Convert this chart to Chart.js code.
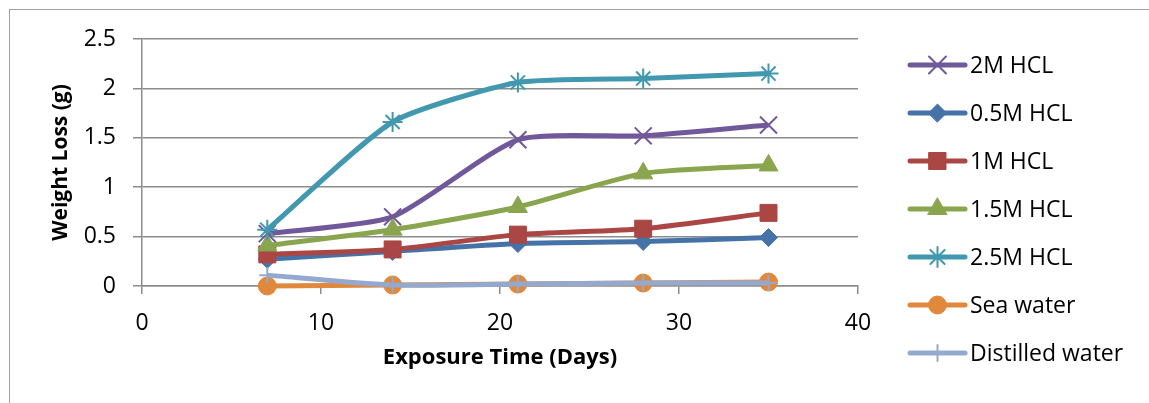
<!DOCTYPE html>
<html lang="en">
<head>
  <meta charset="UTF-8">
  <title>Weight Loss vs Exposure Time</title>
  <script src="https://cdn.jsdelivr.net/npm/chart.js"></script>
  <style>
    body {
      margin: 0;
      background: #ffffff;
      overflow: hidden;
    }
    .frame {
      position: absolute;
      left: 9px;
      top: 9px;
      width: 1300px;
      height: 600px;
      border-left: 1.5px solid #a0a0a0;
      border-top: 1.5px solid #a0a0a0;
    }
    #chart {
      position: absolute;
      left: 0;
      top: 0;
    }
  </style>
</head>
<body>
  <div class="frame"></div>
  <canvas id="chart" width="1149" height="403"></canvas>

  <script>
    // data
    const days = [7, 14, 21, 28, 35];
    const hcl2M = [0.53, 0.70, 1.48, 1.52, 1.63];
    const hcl05M = [0.27, 0.35, 0.43, 0.45, 0.49];
    const hcl1M = [0.32, 0.37, 0.52, 0.58, 0.74];
    const hcl15M = [0.41, 0.57, 0.80, 1.14, 1.22];
    const hcl25M = [0.57, 1.66, 2.06, 2.10, 2.15];
    const seaWater = [0.00, 0.01, 0.02, 0.03, 0.04];
    const distilledWater = [0.11, 0.01, 0.02, 0.03, 0.03];

    const xTicks = [0, 10, 20, 30, 40];
    const yTicks = [0, 0.5, 1, 1.5, 2, 2.5];

    const FONT = "'Open Sans', 'Noto Sans', sans-serif";

    const seriesList = [
      { label: '2M HCL', values: hcl2M, color: '#71589b', style: 'crossRot', radius: 12, fill: false },
      { label: '0.5M HCL', values: hcl05M, color: '#4572a7', style: 'rectRot', radius: 9, fill: true },
      { label: '1M HCL', values: hcl1M, color: '#aa4643', style: 'rect', radius: 12, fill: true },
      { label: '1.5M HCL', values: hcl15M, color: '#89a54e', style: 'triangle', radius: 11, fill: true },
      { label: '2.5M HCL', values: hcl25M, color: '#4198af', style: 'star', radius: 10, fill: false },
      { label: 'Sea water', values: seaWater, color: '#e0893c', style: 'circle', radius: 9, fill: true },
      { label: 'Distilled water', values: distilledWater, color: '#93a9cf', style: 'cross', radius: 8, fill: false }
    ];

    const datasets = seriesList.map((s, i) => ({
      label: s.label,
      data: days.map((d, j) => ({ x: d, y: s.values[j] })),
      borderColor: s.color,
      backgroundColor: s.color,
      borderWidth: 5,
      tension: 0.2,
      pointStyle: s.style,
      pointRadius: s.radius,
      pointHoverRadius: s.radius,
      pointBorderWidth: s.fill ? 1 : 2,
      pointBorderColor: s.color,
      pointBackgroundColor: s.color,
      showLine: true,
      clip: false,
      order: seriesList.length - 1 - i
    }));

    // legend drawn as line + marker like the original
    const lineLegend = {
      id: 'lineLegend',
      afterDraw(chart) {
        const ctx = chart.ctx;
        const x0 = 910, x1 = 965, textX = 970, firstY = 65, step = 48;
        seriesList.forEach((s, i) => {
          const y = firstY + i * step;
          ctx.save();
          ctx.strokeStyle = s.color;
          ctx.fillStyle = s.color;
          ctx.lineWidth = 5;
          ctx.lineCap = 'round';
          ctx.beginPath();
          ctx.moveTo(x0, y);
          ctx.lineTo(x1, y);
          ctx.stroke();
          ctx.lineWidth = s.fill ? 1 : 2;
          Chart.helpers.drawPoint(ctx, {
            pointStyle: s.style,
            radius: s.radius,
            rotation: 0,
            borderWidth: s.fill ? 1 : 2
          }, (x0 + x1) / 2, y);
          ctx.fillStyle = '#000000';
          ctx.font = '23px ' + FONT;
          ctx.textBaseline = 'middle';
          ctx.textAlign = 'left';
          ctx.fillText(s.label, textX, y + 1);
          ctx.restore();
        });
      }
    };

    new Chart(document.getElementById('chart'), {
      type: 'scatter',
      data: { datasets },
      options: {
        responsive: false,
        animation: false,
        events: [],
        layout: { padding: { left: 0, top: 39, right: 291, bottom: 0 } },
        plugins: {
          legend: { display: false },
          tooltip: { enabled: false }
        },
        scales: {
          x: {
            type: 'linear',
            min: 0,
            max: 40,
            afterFit: (scale) => { scale.height = 117; },
            afterBuildTicks: (scale) => { scale.ticks = xTicks.map(v => ({ value: v })); },
            border: { color: '#8c8c8c', width: 1.5 },
            grid: { drawOnChartArea: false, drawTicks: true, tickLength: 8, color: '#8c8c8c', lineWidth: 1.5 },
            ticks: {
              color: '#000000',
              padding: 16,
              font: { family: FONT, size: 23 },
              callback: (v) => String(v)
            },
            title: {
              display: true,
              text: 'Exposure Time (Days)',
              color: '#000000',
              font: { family: FONT, size: 22, weight: 'bold' },
              padding: { top: 0, bottom: 32 }
            }
          },
          y: {
            type: 'linear',
            min: 0,
            max: 2.5,
            afterFit: (scale) => { scale.width = 142; },
            afterBuildTicks: (scale) => { scale.ticks = yTicks.map(v => ({ value: v })); },
            border: { color: '#8c8c8c', width: 1.5 },
            grid: { color: '#8c8c8c', lineWidth: 1.5, drawTicks: true, tickLength: 9 },
            ticks: {
              color: '#000000',
              padding: 17,
              font: { family: FONT, size: 23 },
              callback: (v) => String(v)
            },
            title: {
              display: true,
              text: 'Weight Loss (g)',
              color: '#000000',
              font: { family: FONT, size: 21, weight: 'bold' },
              padding: { top: 48, bottom: 0 }
            }
          }
        }
      },
      plugins: [lineLegend]
    });
  </script>
</body>
</html>
